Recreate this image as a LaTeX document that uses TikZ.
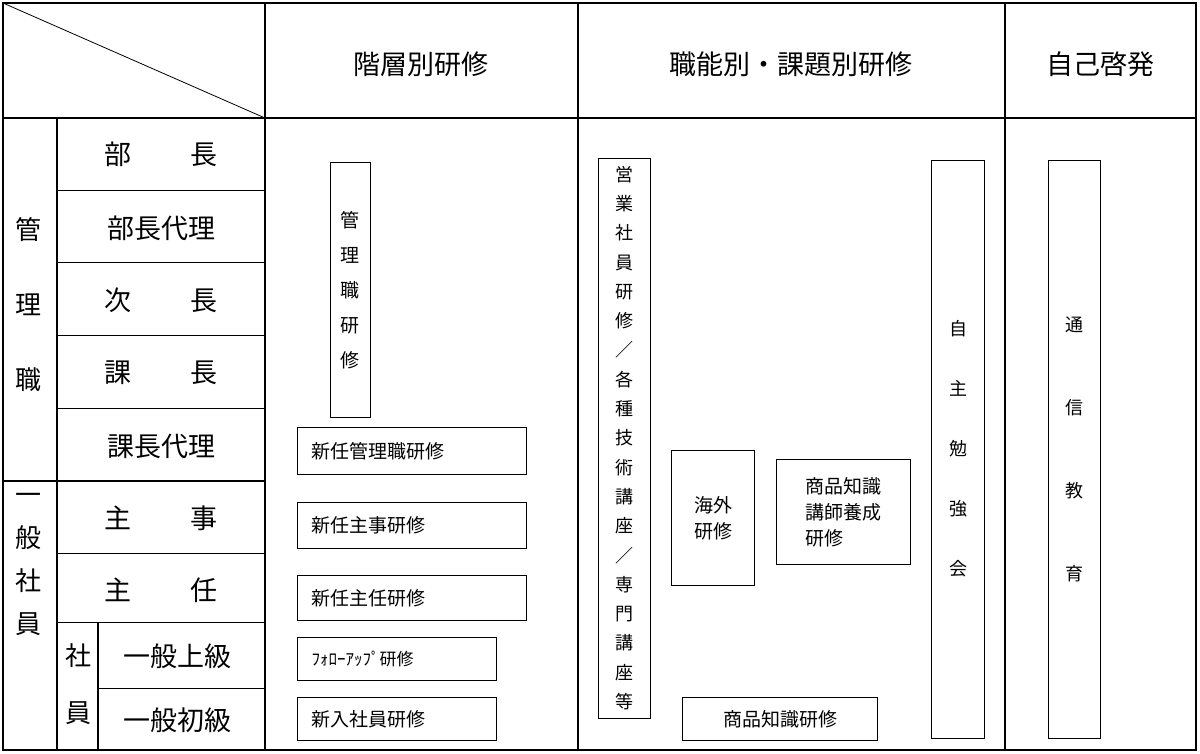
\documentclass[tikz,border=0pt]{standalone}
\usepackage{fontspec}
\setmainfont{Noto Sans CJK JP}
\begin{document}
\begin{tikzpicture}[x=1pt,y=-1pt,
  rule/.style={line width=1.2pt},
  thin rule/.style={line width=0.8pt},
  hd/.style={font=\fontsize{27}{30}\selectfont},
  rank/.style={font=\fontsize{27}{30}\selectfont},
  cbox/.style={draw,line width=1pt,align=center,inner sep=0pt},
  lbox/.style={draw,line width=1pt,align=left,inner ysep=0pt,inner xsep=14pt,
    font=\fontsize{19}{24}\selectfont},
  bt/.style={font=\fontsize{19}{24}\selectfont}]
\useasboundingbox (0,0) rectangle (1200,753);
% frame and columns
\draw[rule] (3,3) rectangle (1196,750);
\draw[rule] (3,118) -- (1196,118);
\draw[thin rule] (3,3) -- (265,118);
\foreach \cx in {265,578,1005} \draw[rule] (\cx,3) -- (\cx,750);
\draw[rule] (57,118) -- (57,750);
\draw[rule] (98,622) -- (98,750);
\draw[rule] (3,481) -- (265,481);
\foreach \ry in {190,262,335,408,553,622} \draw[thin rule] (57,\ry) -- (265,\ry);
\draw[thin rule] (98,688) -- (265,688);
% headers
\node[hd] (h1) at (421,64) {階層別研修};
\node[hd] (h2) at (791,64) {職能別・課題別研修};
\node[hd] (h3) at (1100,64) {自己啓発};
% ranks
\node[rank] (r1) at (161,154) {部\hspace{2.2em}長};
\node[rank] (r2) at (161,228) {部長代理};
\node[rank] (r3) at (161,300) {次\hspace{2.2em}長};
\node[rank] (r4) at (161,373) {課\hspace{2.2em}長};
\node[rank] (r5) at (161,446) {課長代理};
\node[rank] (r6) at (161,518) {主\hspace{2.2em}事};
\node[rank] (r7) at (161,590) {主\hspace{2.2em}任};
\node[rank] (r8) at (177,656) {一般上級};
\node[rank] (r9) at (177,720) {一般初級};
\node[align=center,font=\fontsize{26}{75}\selectfont] (g1) at (28,305) {管\\理\\職};
\node[align=center,font=\fontsize{26}{43}\selectfont] (g2) at (28,564) {一\\般\\社\\員};
\node[align=center,font=\fontsize{26}{57}\selectfont] (g3) at (78,684) {社\\員};
% 階層別
\node[cbox,minimum width=40,minimum height=255,font=\fontsize{19}{35}\selectfont] (b1) at (350,290) {管\\理\\職\\研\\修};
\node[lbox,text width=201,minimum height=47] (b2) at (412,451) {新任管理職研修};
\node[lbox,text width=201,minimum height=46] (b3) at (412,525) {新任主事研修};
\node[lbox,text width=201,minimum height=45] (b4) at (412,598) {新任主任研修};
\node[lbox,text width=171,minimum height=43] (b5) at (397,659) {\fontsize{17}{20}\selectfont ﾌｫﾛｰｱｯﾌﾟ研修};
\node[lbox,text width=171,minimum height=43] (b6) at (397,719) {新入社員研修};
% 職能別
\node[cbox,minimum width=52,minimum height=560,font=\fontsize{18}{29.3}\selectfont] (b7) at (624,438)
  {営\\業\\社\\員\\研\\修\\／\\各\\種\\技\\術\\講\\座\\／\\専\\門\\講\\座\\等};
\node[cbox,bt,minimum width=83,minimum height=135,font=\fontsize{19}{26}\selectfont] (b8) at (713,518) {海外\\研修};
\node[cbox,minimum width=134,minimum height=105,align=left,font=\fontsize{19}{26}\selectfont] (b9) at (843,512) {商品知識\\講師養成\\研修};
\node[cbox,bt,minimum width=195,minimum height=43] (b10) at (780,719) {商品知識研修};
\node[cbox,minimum width=53,minimum height=578,font=\fontsize{18}{60}\selectfont] (b11) at (958,449) {自\\主\\勉\\強\\会};
% 自己啓発
\node[cbox,minimum width=52,minimum height=578,font=\fontsize{18}{83}\selectfont] (b12) at (1074,449) {通\\信\\教\\育};
\end{tikzpicture}
\end{document}
